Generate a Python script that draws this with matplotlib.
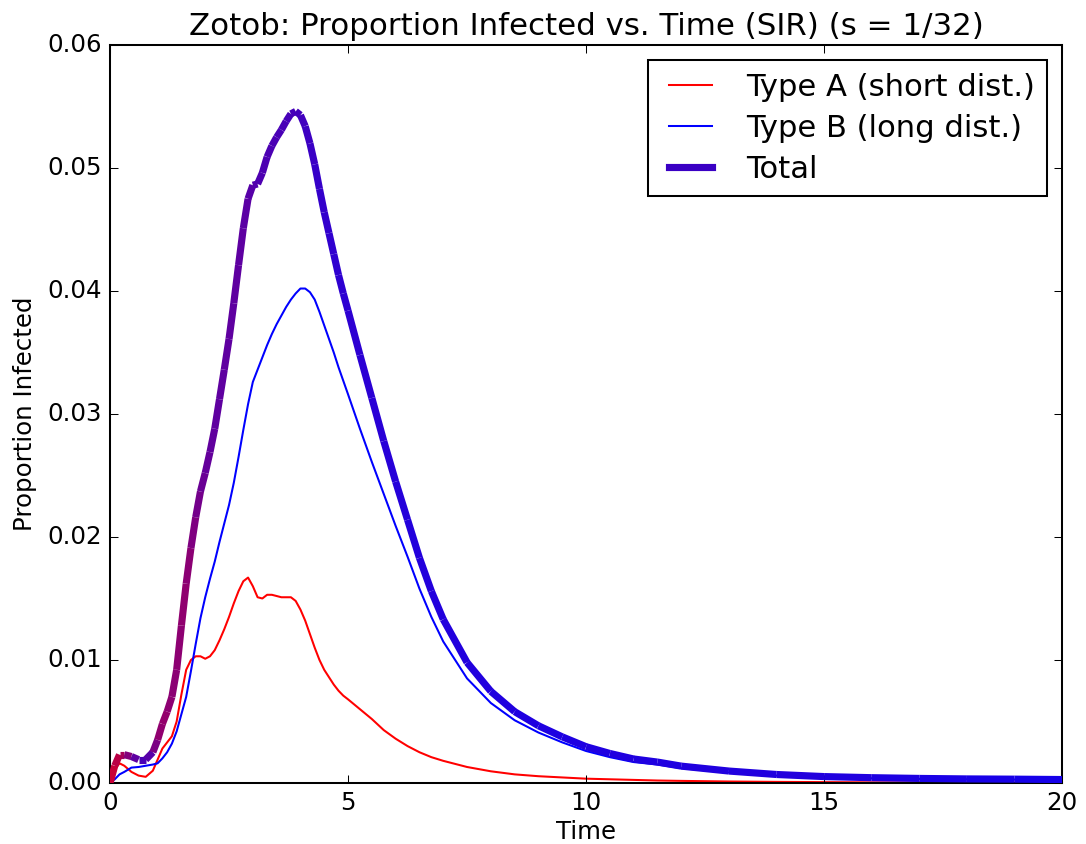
import numpy as np
import matplotlib
matplotlib.use('Agg')
import matplotlib.pyplot as plt
from matplotlib.collections import LineCollection
from matplotlib.lines import Line2D

# time grid shared by both infection curves
time = [0, 0.1, 0.2, 0.3, 0.45, 0.6, 0.75, 0.9, 1.0, 1.1, 1.2, 1.3, 1.4, 1.5,
        1.6, 1.7, 1.8, 1.9, 2.0, 2.1, 2.2, 2.3, 2.4, 2.5, 2.6, 2.7, 2.8, 2.9,
        3.0, 3.1, 3.2, 3.3, 3.4, 3.5, 3.6, 3.7, 3.8, 3.9, 4.0, 4.1, 4.2, 4.3,
        4.4, 4.5, 4.6, 4.7, 4.8, 4.9, 5.0, 5.25, 5.5, 5.75, 6.0, 6.25, 6.5,
        6.75, 7.0, 7.5, 8.0, 8.5, 9.0, 9.5, 10.0, 10.5, 11.0, 11.5, 12.0,
        13.0, 14.0, 15.0, 16.0, 17.0, 18.0, 19.0, 20.0]

# type A (short distance) infected proportion
type_a = [0.0, 0.0011, 0.0016, 0.0014, 0.0009, 0.0006, 0.0005, 0.0010, 0.0019,
          0.0028, 0.0033, 0.0038, 0.0050, 0.0072, 0.0092, 0.0100, 0.0103,
          0.0103, 0.0101, 0.0103, 0.0108, 0.0116, 0.0125, 0.0135, 0.0146,
          0.0156, 0.0164, 0.0167, 0.0160, 0.0151, 0.0150, 0.0153, 0.0153,
          0.0152, 0.0151, 0.0151, 0.0151, 0.0148, 0.0141, 0.0132, 0.0121,
          0.0110, 0.0100, 0.0092, 0.0086, 0.0080, 0.0075, 0.0071, 0.0068,
          0.0060, 0.0052, 0.0043, 0.0036, 0.0030, 0.0025, 0.0021, 0.0018,
          0.0013, 0.00095, 0.0007, 0.00055, 0.00045, 0.00035, 0.0003,
          0.00025, 0.0002, 0.00017, 0.00012, 0.00009, 0.00007, 0.00005,
          0.00004, 0.00003, 0.00003, 0.00002]

# type B (long distance) infected proportion
type_b = [0.0, 0.0003, 0.0007, 0.0009, 0.00125, 0.0013, 0.0014, 0.0015, 0.0016,
          0.0020, 0.0025, 0.0032, 0.0042, 0.0056, 0.0070, 0.0091, 0.0113,
          0.0134, 0.0151, 0.0166, 0.0180, 0.0196, 0.0211, 0.0226, 0.0244,
          0.0265, 0.0287, 0.0308, 0.0326, 0.0336, 0.0346, 0.0356, 0.0365,
          0.0373, 0.0380, 0.0387, 0.0393, 0.0398, 0.0402, 0.0402, 0.0399,
          0.0393, 0.0383, 0.0372, 0.0361, 0.0350, 0.0338, 0.0327, 0.0316,
          0.0288, 0.0261, 0.0235, 0.0209, 0.0184, 0.0158, 0.0135, 0.0115,
          0.0085, 0.0065, 0.0051, 0.0041, 0.0033, 0.0026, 0.0021, 0.0017,
          0.0015, 0.0012, 0.00085, 0.0006, 0.00045, 0.00038, 0.00033,
          0.0003, 0.00028, 0.00026]


def main():
    plt.style.use('classic')
    t = np.array(time)
    a = np.array(type_a)
    b = np.array(type_b)
    total = a + b

    fig = plt.figure(figsize=(1086 / 147.0, 844 / 147.0), dpi=147, facecolor='white')
    ax = fig.add_subplot(111)
    fig.subplots_adjust(left=0.1013, right=0.978, bottom=0.0723, top=0.9467)

    ax.plot(t, a, color='r', lw=1.0)
    ax.plot(t, b, color='b', lw=1.0)

    # total coloured by the share of each type: red = A, blue = B
    pts = np.column_stack([t, total]).reshape(-1, 1, 2)
    segs = np.concatenate([pts[:-1], pts[1:]], axis=1)
    am = 0.5 * (a[:-1] + a[1:])
    tm = 0.5 * (total[:-1] + total[1:])
    frac = np.where(tm > 0, am / np.where(tm > 0, tm, 1), 1.0)
    cols = [(f, 0.0, 1.0 - f) for f in frac]
    lc = LineCollection(segs, colors=cols, linewidths=3.5, zorder=3)
    ax.add_collection(lc)

    handles = [Line2D([], [], color='r', lw=1.0),
               Line2D([], [], color='b', lw=1.0),
               Line2D([], [], color='#3a00c4', lw=3.5)]
    ax.legend(handles, ['Type A (short dist.)', 'Type B (long dist.)', 'Total'],
              loc='upper right', prop={'size': 15.0}, labelspacing=0.4)

    ax.set_xlim(0, 20)
    ax.set_ylim(0, 0.06)
    ax.set_xlabel('Time', labelpad=2.5)
    ax.set_ylabel('Proportion Infected')
    ax.set_title('Zotob: Proportion Infected vs. Time (SIR) (s = 1/32)', fontsize=15.1)

    fig.savefig('out.png', dpi=147, facecolor='white')


if __name__ == "__main__":
    main()
